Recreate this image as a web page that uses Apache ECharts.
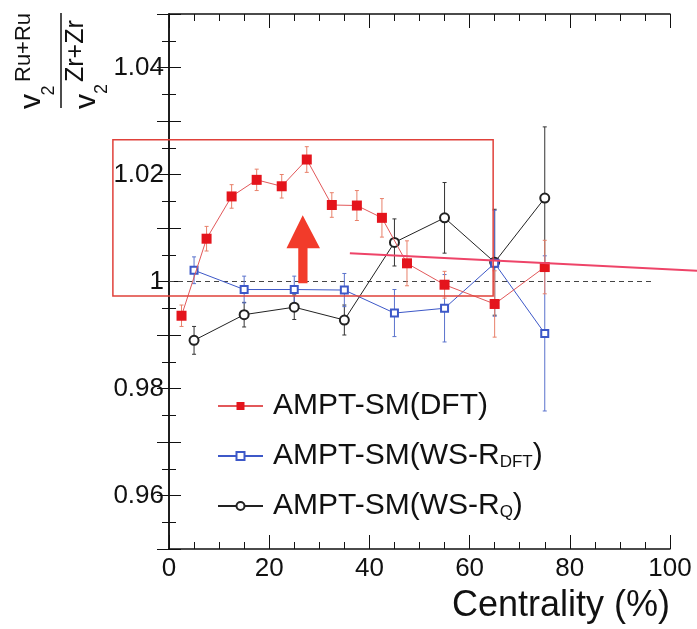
<!DOCTYPE html>
<html><head><meta charset="utf-8">
<script src="https://cdn.jsdelivr.net/npm/echarts@6/dist/echarts.min.js"></script>
<style>html,body{margin:0;padding:0;background:#fff}#c{width:697px;height:629px}</style>
</head><body><div id="c"></div>
<script>
const FONT = '"Liberation Sans", Arial, Helvetica, sans-serif';

// tick labels
const xTickLabels = [0, 20, 40, 60, 80, 100];
const yTickLabels = [0.96, 0.98, 1, 1.02, 1.04];

// series names
const seriesNames = ['AMPT-SM(DFT)', 'AMPT-SM(WS-R_DFT)', 'AMPT-SM(WS-R_Q)'];

// AMPT-SM(DFT)
const xRed = [2.5, 7.5, 12.5, 17.5, 22.5, 27.5, 32.5, 37.5, 42.5, 47.5, 55, 65, 75];
const yRed = [0.9936, 1.0080, 1.0159, 1.0190, 1.0178, 1.0228, 1.0143, 1.0142, 1.0119, 1.0034, 0.9994, 0.9958, 1.0027];
const eRed = [0.0020, 0.0023, 0.0022, 0.0020, 0.0022, 0.0024, 0.0023, 0.0028, 0.0036, 0.0042, 0.0025, 0.0062, 0.0050];

// AMPT-SM(WS-R_DFT)
const xBlue = [5, 15, 25, 35, 45, 55, 65, 75];
const yBlue = [1.0021, 0.9985, 0.9985, 0.9984, 0.9941, 0.9950, 1.0034, 0.9903];
const eBlue = [0.0025, 0.0025, 0.0025, 0.0031, 0.0044, 0.0063, 0.0099, 0.0145];

// AMPT-SM(WS-R_Q)
const xBlack = [5, 15, 25, 35, 45, 55, 65, 75];
const yBlack = [0.9890, 0.9938, 0.9952, 0.9928, 1.0073, 1.0119, 1.0036, 1.0156];
const eBlack = [0.0026, 0.0023, 0.0023, 0.0028, 0.0044, 0.0066, 0.0099, 0.0133];

// reference line at ratio 1
const refLine = [[0, 1], [97, 1]];

// annotations (data coordinates)
const boxCorners = [[-11.2, 1.0265], [64.7, 0.9973]];
const arrowPoly = [[26.69, 1.0124], [30.14, 1.0062], [27.65, 1.0062], [27.65, 0.99966], [25.8, 0.99966], [25.8, 1.0062], [23.45, 1.0062]];
const slantLine = [[36.1, 1.00527], [105.4, 1.00202]];

const COL = {
  red: '#e4141c', redLine: '#e2585a', redErr: '#e8806a',
  blue: '#3d58c8', blueErr: '#5a72cc',
  black: '#222', blackErr: '#333'
};

function pts(xs, ys) { return xs.map((x, i) => [x, ys[i]]); }
function errs(xs, ys, es) { return xs.map((x, i) => [x, ys[i] - es[i], ys[i] + es[i]]); }

function errSeries(data, color) {
  return {
    type: 'custom', silent: true, z: 2,
    encode: { x: 0, y: [1, 2] },
    data: data,
    renderItem: function (params, api) {
      const x = api.value(0), lo = api.value(1), hi = api.value(2);
      const p1 = api.coord([x, lo]), p2 = api.coord([x, hi]);
      const c = 2;
      return {
        type: 'group', children: [
          { type: 'line', shape: { x1: p1[0], y1: p1[1], x2: p2[0], y2: p2[1] }, style: { stroke: color, lineWidth: 1 } },
          { type: 'line', shape: { x1: p1[0] - c, y1: p1[1], x2: p1[0] + c, y2: p1[1] }, style: { stroke: color, lineWidth: 1 } },
          { type: 'line', shape: { x1: p2[0] - c, y1: p2[1], x2: p2[0] + c, y2: p2[1] }, style: { stroke: color, lineWidth: 1 } }
        ]
      };
    }
  };
}

const axisLineStyle = { show: true, lineStyle: { color: '#111', width: 1.5 } };

const option = {
  animation: false,
  backgroundColor: '#fff',
  grid: { left: 169, right: 27, top: 14, bottom: 80, containLabel: false },
  xAxis: [
    {
      type: 'value', min: 0, max: 100, interval: 20, position: 'bottom',
      axisLine: axisLineStyle,
      axisTick: { show: true, inside: true, length: 14, lineStyle: { color: '#111', width: 1 } },
      minorTick: { show: true, splitNumber: 4, length: 7, lineStyle: { color: '#111', width: 1 } },
      axisLabel: { customValues: xTickLabels, fontSize: 26, fontFamily: FONT, color: '#111', margin: 7 },
      splitLine: { show: false }
    },
    {
      type: 'value', min: 0, max: 100, interval: 20, position: 'top',
      axisLine: axisLineStyle,
      axisTick: { show: true, inside: true, length: 14, lineStyle: { color: '#111', width: 1 } },
      minorTick: { show: true, splitNumber: 4, length: 7, lineStyle: { color: '#111', width: 1 } },
      axisLabel: { show: false }, splitLine: { show: false }
    }
  ],
  yAxis: [
    {
      type: 'value', min: 0.95, max: 1.05, interval: 0.01, position: 'left',
      axisLine: axisLineStyle,
      axisTick: { show: true, inside: true, length: 12, lineStyle: { color: '#111', width: 1 } },
      minorTick: { show: true, splitNumber: 2, length: 7, lineStyle: { color: '#111', width: 1 } },
      axisLabel: {
        customValues: yTickLabels, fontSize: 26, fontFamily: FONT, color: '#111', margin: 5,
        formatter: v => (Math.abs(v - 1) < 1e-9 ? '1' : v.toFixed(2))
      },
      splitLine: { show: false }
    },
    {
      type: 'value', min: 0.95, max: 1.05, interval: 0.01, position: 'right',
      axisLine: axisLineStyle,
      axisTick: { show: true, inside: true, length: 12, lineStyle: { color: '#111', width: 1 } },
      minorTick: { show: true, splitNumber: 2, length: 7, lineStyle: { color: '#111', width: 1 } },
      axisLabel: { show: false }, splitLine: { show: false }
    }
  ],
  legend: {
    data: seriesNames,
    orient: 'vertical', left: 217, top: 391, padding: 0,
    itemWidth: 45, itemHeight: 10, itemGap: 20,
    textStyle: {
      fontSize: 30, fontFamily: FONT, color: '#111', lineHeight: 30, padding: [0, 0, 0, 5],
      rich: { s: { fontSize: 17, fontFamily: FONT, color: '#111', lineHeight: 4, verticalAlign: 'bottom' } }
    },
    formatter: function (name) {
      const i = name.indexOf('_');
      if (i < 0) return name;
      return name.slice(0, i) + '{s|' + name.slice(i + 1, -1) + '})';
    }
  },
  series: [
    {
      type: 'line', silent: true, z: 1, symbol: 'none', data: refLine,
      lineStyle: { color: '#444', width: 1, type: [5, 4] }
    },
    errSeries(errs(xBlack, yBlack, eBlack), COL.blackErr),
    errSeries(errs(xBlue, yBlue, eBlue), COL.blueErr),
    errSeries(errs(xRed, yRed, eRed), COL.redErr),
    {
      name: seriesNames[2], type: 'line', z: 3, data: pts(xBlack, yBlack),
      symbol: 'emptyCircle', symbolSize: 9,
      lineStyle: { color: COL.black, width: 1 },
      itemStyle: { color: COL.black, borderColor: COL.black, borderWidth: 1 }
    },
    {
      name: seriesNames[1], type: 'line', z: 4, data: pts(xBlue, yBlue),
      symbol: 'emptyRect', symbolSize: 7,
      lineStyle: { color: COL.blue, width: 1 },
      itemStyle: { color: COL.blue, borderColor: COL.blue, borderWidth: 1 }
    },
    {
      name: seriesNames[0], type: 'line', z: 5, data: pts(xRed, yRed),
      symbol: 'rect', symbolSize: 10,
      lineStyle: { color: COL.redLine, width: 1 },
      itemStyle: { color: COL.red }
    }
  ]
};

const chart = echarts.init(document.getElementById('c'), null, { renderer: 'canvas' });
chart.setOption(option);

function px(p) { return chart.convertToPixel({ xAxisIndex: 0, yAxisIndex: 0 }, p); }

// text in the rotated group's local frame (local x -> screen up, local y -> screen right)
function ltext(txt, lx, ly, size) {
  return {
    type: 'text', x: lx, y: ly,
    style: {
      text: txt, font: size + 'px ' + FONT, fontSize: size, fontFamily: FONT, fill: '#111',
      align: 'left', textAlign: 'left', verticalAlign: 'middle', textVerticalAlign: 'middle'
    }
  };
}

const b0 = px(boxCorners[0]), b1 = px(boxCorners[1]);
const arrowPx = arrowPoly.map(px);
const s0 = px(slantLine[0]), s1 = px(slantLine[1]);

chart.setOption({
  graphic: [
    // y-axis title: v2^{Ru+Ru} / v2^{Zr+Zr}, rotated to read bottom-to-top
    {
      type: 'group', x: 61, y: 109, rotation: Math.PI / 2, z: 10,
      children: [
        ltext('v', 0, -29.4, 30),
        ltext('2', 13.5, -12.2, 18),
        ltext('Ru+Ru', 27, -36.6, 22),
        { type: 'line', shape: { x1: 1, y1: 0, x2: 96, y2: 0 }, style: { stroke: '#111', lineWidth: 1.5 } },
        ltext('v', 0, 25.6, 30),
        ltext('2', 15, 40.8, 18),
        ltext('Zr+Zr', 27, 15.3, 25)
      ]
    },
    // x-axis title
    {
      type: 'text', x: 670, y: 606, z: 10,
      style: { text: 'Centrality (%)', font: '36px ' + FONT, fontSize: 36, fontFamily: FONT, fill: '#111',
        align: 'right', textAlign: 'right', verticalAlign: 'middle', textVerticalAlign: 'middle' }
    },
    // annotations
    {
      type: 'rect', z: 8, shape: { x: b0[0], y: b0[1], width: b1[0] - b0[0], height: b1[1] - b0[1] },
      style: { fill: 'none', stroke: '#e0413a', lineWidth: 1.5 }
    },
    { type: 'polygon', z: 8, shape: { points: arrowPx }, style: { fill: '#f23b2a', stroke: 'none' } },
    { type: 'line', z: 8, shape: { x1: s0[0], y1: s0[1], x2: s1[0], y2: s1[1] }, style: { stroke: '#ee4468', lineWidth: 2 } }
  ]
});
</script>
</body></html>
